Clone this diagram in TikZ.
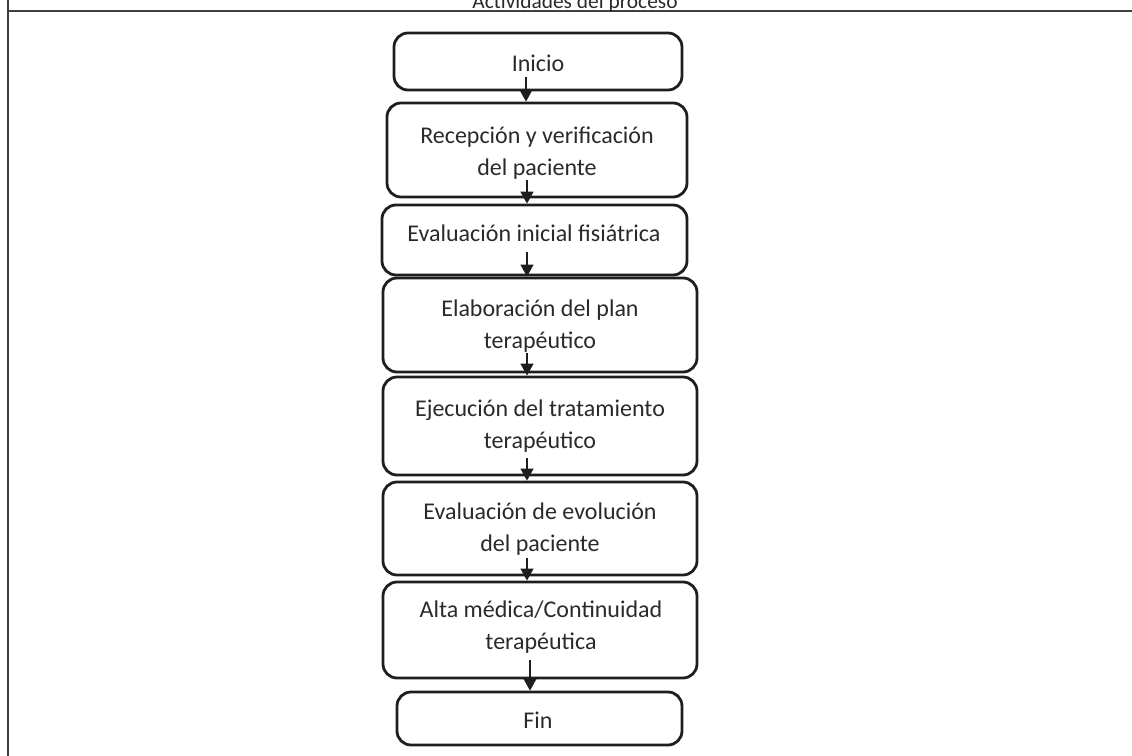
\documentclass[tikz,border=0pt]{standalone}
\usepackage{fontspec}
\setmainfont{Carlito}
\usetikzlibrary{arrows.meta}
\definecolor{ink}{HTML}{1E1E1E}
\definecolor{txt}{HTML}{2A2A2A}
\tikzset{
  stepbox/.style={draw=ink, line width=1.4pt, rounded corners=7pt, inner sep=0pt, fill=none},
  lab/.style={text=txt, font=\fontsize{12}{16}\selectfont, align=center, inner sep=0pt},
  arr/.style={draw=ink, line width=0.6pt, -{Triangle[width=6.5pt,length=6pt]}},
  frame/.style={draw=ink!85, line width=1.1pt}
}
\begin{document}
\begin{tikzpicture}[x=0.5pt,y=-0.5pt]
\useasboundingbox (0,0) rectangle (1132,756);
% frame
\coordinate (f0) at (8,0);
\coordinate (f1) at (8,11);
\coordinate (f2) at (1132,11);
\coordinate (f3) at (8,756);
\draw[frame] (f3) -- (f0);
\draw[frame, line width=1.4pt] (f1) -- (f2);
\node[text=txt, font=\fontsize{10.7}{12}\selectfont, anchor=base, inner sep=0pt] (hdr) at (575,8) {Actividades del proceso};
% boxes
\node[stepbox, minimum width=144pt, minimum height=28.5pt] (b1) at (538,61.5) {};
\node[stepbox, minimum width=150pt, minimum height=47pt] (b2) at (537,150) {};
\node[stepbox, minimum width=152.5pt, minimum height=35pt] (b3) at (534.5,240) {};
\node[stepbox, minimum width=157pt, minimum height=47pt] (b4) at (540,325) {};
\node[stepbox, minimum width=157pt, minimum height=49pt] (b5) at (540,426) {};
\node[stepbox, minimum width=157pt, minimum height=46.5pt] (b6) at (540,528.5) {};
\node[stepbox, minimum width=157pt, minimum height=48pt] (b7) at (540,630) {};
\node[stepbox, minimum width=142.5pt, minimum height=26.5pt] (b8) at (539.5,718.5) {};
% labels
\node[lab] (t1) at (538,63) {Inicio};
\node[lab] (t2) at (537,153.5) {Recepción y verificación\\del paciente};
\node[lab] (t3) at (534,233) {Evaluación inicial fisiátrica};
\node[lab] (t4) at (540,326) {Elaboración del plan\\terapéutico};
\node[lab] (t5) at (540,426) {Ejecución del tratamiento\\terapéutico};
\node[lab] (t6) at (540,529) {Evaluación de evolución\\del paciente};
\node[lab] (t7) at (541,627.5) {Alta médica/Continuidad\\terapéutica};
\node[lab] (t8) at (538,720) {Fin};
% arrows
\coordinate (a1) at (526,77);
\coordinate (a2) at (527,180);
\coordinate (a3) at (527,252);
\coordinate (a4) at (527,353);
\coordinate (a5) at (527,458);
\coordinate (a6) at (527,558);
\coordinate (a7) at (530,660);
\draw[arr] (a1) -- (a1 |- b2.north);
\draw[arr] (a2) -- (a2 |- b3.north);
\draw[arr] (a3) -- (a3 |- b4.north);
\draw[arr] (a4) -- (a4 |- b5.north);
\draw[arr] (a5) -- (a5 |- b6.north);
\draw[arr] (a6) -- (a6 |- b7.north);
\draw[arr] (a7) -- (a7 |- b8.north);
\end{tikzpicture}
\end{document}
